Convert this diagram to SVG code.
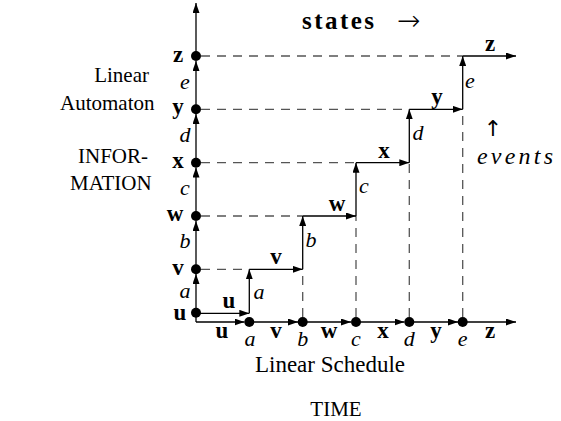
<svg xmlns="http://www.w3.org/2000/svg" width="561" height="421" viewBox="0 0 561 421">
<style>
text{font-family:"Liberation Serif","Times New Roman",serif;font-size:21px;fill:#000}
.b{font-weight:bold;font-size:23px}
.i{font-style:italic;font-size:22px}
.m{text-anchor:middle}
.e{text-anchor:end}
.arr{font-family:"DejaVu Sans",sans-serif;font-weight:200}
.up{font-family:"DejaVu Sans",sans-serif;font-weight:normal}
.ax{stroke:#000;stroke-width:1.3;fill:none}
.st{stroke:#000;stroke-width:1.3;fill:none}
.dash{stroke:#555;stroke-width:1.3;stroke-dasharray:9 7;fill:none}
.dot{fill:#000}
</style>
<defs>
<marker id="ah" viewBox="0 0 10 7" refX="10" refY="3.5" markerWidth="10" markerHeight="7" markerUnits="userSpaceOnUse" orient="auto">
<path d="M0,0 L10,3.5 L0,7 z" fill="#000"/>
</marker>
</defs>
<g id="connectors">
<line class="dash" x1="201" y1="269.3" x2="249.3" y2="269.3"/>
<line class="dash" x1="201" y1="216" x2="302.7" y2="216"/>
<line class="dash" x1="201" y1="162.7" x2="356" y2="162.7"/>
<line class="dash" x1="201" y1="109.3" x2="409.3" y2="109.3"/>
<line class="dash" x1="201" y1="56" x2="462.7" y2="56"/>
<line class="dash" x1="302.7" y1="317" x2="302.7" y2="269.3"/>
<line class="dash" x1="356" y1="317" x2="356" y2="216"/>
<line class="dash" x1="409.3" y1="317" x2="409.3" y2="162.7"/>
<line class="dash" x1="462.7" y1="317" x2="462.7" y2="109.3"/>
<line class="ax" x1="196" y1="322" x2="196" y2="312.7"/>
<line class="ax" x1="196" y1="312.7" x2="196" y2="274" marker-end="url(#ah)"/>
<line class="ax" x1="196" y1="269.3" x2="196" y2="221" marker-end="url(#ah)"/>
<line class="ax" x1="196" y1="216" x2="196" y2="167.5" marker-end="url(#ah)"/>
<line class="ax" x1="196" y1="162.7" x2="196" y2="114" marker-end="url(#ah)"/>
<line class="ax" x1="196" y1="109.3" x2="196" y2="61" marker-end="url(#ah)"/>
<line class="ax" x1="196" y1="56" x2="196" y2="3" marker-end="url(#ah)"/>
<line class="ax" x1="196" y1="322" x2="244.5" y2="322" marker-end="url(#ah)"/>
<line class="ax" x1="249.3" y1="322" x2="298" y2="322" marker-end="url(#ah)"/>
<line class="ax" x1="302.7" y1="322" x2="351" y2="322" marker-end="url(#ah)"/>
<line class="ax" x1="356" y1="322" x2="404.5" y2="322" marker-end="url(#ah)"/>
<line class="ax" x1="409.3" y1="322" x2="458" y2="322" marker-end="url(#ah)"/>
<line class="ax" x1="462.7" y1="322" x2="516" y2="322" marker-end="url(#ah)"/>
<line class="st" x1="196" y1="313.3" x2="249.3" y2="313.3" marker-end="url(#ah)"/>
<line class="st" x1="249.3" y1="313.3" x2="249.3" y2="269.3" marker-end="url(#ah)"/>
<line class="st" x1="249.3" y1="269.3" x2="302.7" y2="269.3" marker-end="url(#ah)"/>
<line class="st" x1="302.7" y1="269.3" x2="302.7" y2="216" marker-end="url(#ah)"/>
<line class="st" x1="302.7" y1="216" x2="356" y2="216" marker-end="url(#ah)"/>
<line class="st" x1="356" y1="216" x2="356" y2="162.7" marker-end="url(#ah)"/>
<line class="st" x1="356" y1="162.7" x2="409.3" y2="162.7" marker-end="url(#ah)"/>
<line class="st" x1="409.3" y1="162.7" x2="409.3" y2="109.3" marker-end="url(#ah)"/>
<line class="st" x1="409.3" y1="109.3" x2="462.7" y2="109.3" marker-end="url(#ah)"/>
<line class="st" x1="462.7" y1="109.3" x2="462.7" y2="56" marker-end="url(#ah)"/>
<line class="st" x1="462.7" y1="56" x2="516" y2="56" marker-end="url(#ah)"/>
</g>
<g id="state-nodes">
<circle class="dot" cx="196" cy="312.7" r="5"/>
<circle class="dot" cx="196" cy="269.3" r="5"/>
<circle class="dot" cx="196" cy="216" r="5"/>
<circle class="dot" cx="196" cy="162.7" r="5"/>
<circle class="dot" cx="196" cy="109.3" r="5"/>
<circle class="dot" cx="196" cy="56" r="5"/>
</g>
<g id="event-nodes">
<circle class="dot" cx="249.3" cy="322" r="5"/>
<circle class="dot" cx="302.7" cy="322" r="5"/>
<circle class="dot" cx="356" cy="322" r="5"/>
<circle class="dot" cx="409.3" cy="322" r="5"/>
<circle class="dot" cx="462.7" cy="322" r="5"/>
</g>
<g id="axis-labels">
<text class="b m" x="178" y="62">z</text>
<text class="i m" x="185" y="89">e</text>
<text class="b m" x="178" y="114">y</text>
<text class="i m" x="185" y="142">d</text>
<text class="b m" x="178" y="168">x</text>
<text class="i m" x="185" y="195">c</text>
<text class="b m" x="175" y="221">w</text>
<text class="i m" x="185" y="248">b</text>
<text class="b m" x="178" y="275">v</text>
<text class="i m" x="185" y="298">a</text>
<text class="b m" x="180" y="320">u</text>
<text class="b m" x="222" y="338">u</text>
<text class="i m" x="250" y="346">a</text>
<text class="b m" x="276" y="338">v</text>
<text class="i m" x="302.7" y="346">b</text>
<text class="b m" x="329" y="338">w</text>
<text class="i m" x="356" y="346">c</text>
<text class="b m" x="383" y="338">x</text>
<text class="i m" x="409.3" y="346">d</text>
<text class="b m" x="436" y="338">y</text>
<text class="i m" x="462.7" y="346">e</text>
<text class="b m" x="490" y="338">z</text>
</g>
<g id="stair-labels">
<text class="b m" x="229" y="308">u</text>
<text class="i m" x="259" y="299">a</text>
<text class="b m" x="276" y="264">v</text>
<text class="i m" x="311" y="247">b</text>
<text class="b m" x="337" y="211">w</text>
<text class="i m" x="364" y="193">c</text>
<text class="b m" x="384" y="158">x</text>
<text class="i m" x="418" y="140">d</text>
<text class="b m" x="437" y="104">y</text>
<text class="i m" x="470" y="88">e</text>
<text class="b m" x="490" y="51">z</text>
</g>
<g id="titles">
<text class="b" x="302" y="29" style="font-size:25px" textLength="72" lengthAdjust="spacing">states</text>
<text class="arr" x="397" y="30" style="font-size:28px">→</text>
<text class="e" x="149" y="82">Linear</text>
<text x="60" y="110">Automaton</text>
<text x="78" y="163">INFOR-</text>
<text x="70" y="190">MATION</text>
<text class="up m" x="493" y="136" style="font-size:22px">↑</text>
<text class="i" x="477" y="164" style="font-size:24px" textLength="76" lengthAdjust="spacing">events</text>
<text class="m" x="330" y="372" style="font-size:23px">Linear Schedule</text>
<text class="m" x="336" y="416">TIME</text>
</g>
</svg>
